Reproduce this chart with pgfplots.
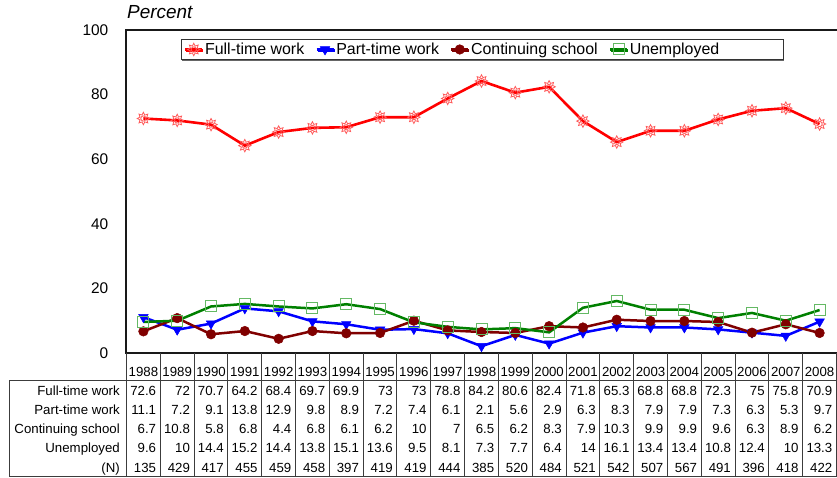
\documentclass[border=0pt]{standalone}
\usepackage{fontspec}
\setmainfont{Liberation Sans}
\usepackage{pgfplots}
\usepackage{pgfplotstable}
\pgfplotsset{compat=1.18}
\usetikzlibrary{plotmarks,calc,shadows}

\definecolor{ftred}{RGB}{255,0,0}
\definecolor{ftmark}{RGB}{255,90,90}
\definecolor{ptblue}{RGB}{0,0,255}
\definecolor{csred}{RGB}{128,0,0}
\definecolor{ungreen}{RGB}{0,128,0}
\definecolor{unmark}{RGB}{100,185,100}
\definecolor{tabline}{RGB}{60,60,60}

\newcommand\tabfont{\fontsize{13.3}{16}\selectfont}

% hollow "sun" marker: 8 spikes round a small circle
\pgfdeclareplotmark{sun}{%
  \pgfpathmoveto{\pgfpointpolar{90}{\pgfplotmarksize}}%
  \pgfpathlineto{\pgfpointpolar{112.5}{0.6\pgfplotmarksize}}%
  \pgfpathlineto{\pgfpointpolar{135}{\pgfplotmarksize}}%
  \pgfpathlineto{\pgfpointpolar{157.5}{0.6\pgfplotmarksize}}%
  \pgfpathlineto{\pgfpointpolar{180}{\pgfplotmarksize}}%
  \pgfpathlineto{\pgfpointpolar{202.5}{0.6\pgfplotmarksize}}%
  \pgfpathlineto{\pgfpointpolar{225}{\pgfplotmarksize}}%
  \pgfpathlineto{\pgfpointpolar{247.5}{0.6\pgfplotmarksize}}%
  \pgfpathlineto{\pgfpointpolar{270}{\pgfplotmarksize}}%
  \pgfpathlineto{\pgfpointpolar{292.5}{0.6\pgfplotmarksize}}%
  \pgfpathlineto{\pgfpointpolar{315}{\pgfplotmarksize}}%
  \pgfpathlineto{\pgfpointpolar{337.5}{0.6\pgfplotmarksize}}%
  \pgfpathlineto{\pgfpointpolar{0}{\pgfplotmarksize}}%
  \pgfpathlineto{\pgfpointpolar{22.5}{0.6\pgfplotmarksize}}%
  \pgfpathlineto{\pgfpointpolar{45}{\pgfplotmarksize}}%
  \pgfpathlineto{\pgfpointpolar{67.5}{0.6\pgfplotmarksize}}%
  \pgfpathclose
  \pgfpathcircle{\pgfpointorigin}{0.42\pgfplotmarksize}%
  \pgfusepathqstroke}

% share of graduates by status, per survey year
\pgfplotstableread{
year ft   pt   cs   un   n
1988 72.6 11.1 6.7  9.6  135
1989 72   7.2  10.8 10   429
1990 70.7 9.1  5.8  14.4 417
1991 64.2 13.8 6.8  15.2 455
1992 68.4 12.9 4.4  14.4 459
1993 69.7 9.8  6.8  13.8 458
1994 69.9 8.9  6.1  15.1 397
1995 73   7.2  6.2  13.6 419
1996 73   7.4  10   9.5  419
1997 78.8 6.1  7    8.1  444
1998 84.2 2.1  6.5  7.3  385
1999 80.6 5.6  6.2  7.7  520
2000 82.4 2.9  8.3  6.4  484
2001 71.8 6.3  7.9  14   521
2002 65.3 8.3  10.3 16.1 542
2003 68.8 7.9  9.9  13.4 507
2004 68.8 7.9  9.9  13.4 567
2005 72.3 7.3  9.6  10.8 491
2006 75   6.3  6.3  12.4 396
2007 75.8 5.3  8.9  10   418
2008 70.9 9.7  6.2  13.3 422
}\survey

\pgfplotsset{
  cellbase/.style = {draw=none, forget plot, point meta=explicit symbolic,
                     nodes near coords},
  cell/.style = {cellbase,
                 nodes near coords style={anchor=base east, xshift=12.9bp,
                                          inner sep=0, font=\tabfont}},
  yearcell/.style = {cellbase,
                 nodes near coords style={anchor=base, inner sep=0, font=\tabfont}},
}
\tikzset{rowlab/.style = {anchor=base east, inner sep=0, font=\tabfont}}

\begin{document}
\begin{tikzpicture}
\begin{axis}[
    x=33.8095bp, y=3.23bp,
    xmin=-0.5, xmax=20.5, ymin=0, ymax=100,
    clip=false,
    axis line style={draw=none},
    xtick=\empty,
    ytick={0,20,...,100},
    major tick length=0pt,
    /pgf/number format/assume math mode=true,
    yticklabel style={font=\fontsize{15.5}{18}\selectfont, inner sep=0pt, xshift=-18bp},
    legend columns=4,
    legend style={at={(rel axis cs:0.0761,0.9721)}, anchor=north west,
                  draw=black!80, line width=0.9bp,
                  drop shadow={shadow xshift=1.2bp, shadow yshift=-1.2bp, fill=black!60, opacity=1},
                  fill=white,
                  font=\fontsize{16}{19}\selectfont,
                  inner xsep=3bp, inner ysep=2bp,
                  nodes={inner xsep=1.5bp, inner ysep=1.5bp},
                  /tikz/every even column/.append style={column sep=9.5bp}},
  ]

  \addplot[color=ftred, line width=2.6bp, mark=sun, mark size=6.2bp,
           mark options={draw=ftmark, fill=none, line width=0.8bp}]
    table[x expr=\coordindex, y=ft]{\survey};
  \addlegendentry{Full-time work}

  \addplot[color=ptblue, line width=2.5bp, mark=triangle*, mark size=5.5bp,
           mark options={fill=ptblue, draw=ptblue, rotate=180, line width=0.5bp}]
    table[x expr=\coordindex, y=pt]{\survey};
  \addlegendentry{Part-time work}

  \addplot[color=csred, line width=2.5bp, mark=*, mark size=4.8bp,
           mark options={fill=csred, draw=csred, line width=0.5bp}]
    table[x expr=\coordindex, y=cs]{\survey};
  \addlegendentry{Continuing school}

  \addplot[color=ungreen, line width=2.5bp, mark=square, mark size=5.5bp,
           mark options={draw=unmark, fill=none, line width=1bp}]
    table[x expr=\coordindex, y=un]{\survey};
  \addlegendentry{Unemployed\hspace*{59.5bp}}

  % plot frame: left, top, bottom
  \draw[line width=2bp, black!90]
    (axis cs:20.5,100) -- (axis cs:-0.5,100) -- (axis cs:-0.5,0) -- (axis cs:20.5,0);

  % data table under the plot
  \pgfplotsinvokeforeach{-0.5,0.5,...,20.5}{
    \draw[tabline, line width=1bp] (axis cs:#1,0) -- (axis cs:#1,-38.24);
  }
  \draw[tabline, line width=1bp]
    (axis cs:20.5,-8.36) -- (axis cs:-3.975,-8.36) -- (axis cs:-3.975,-38.24) -- (axis cs:20.5,-38.24);

  \addplot[yearcell] table[x expr=\coordindex, y expr=-7.217, meta=year]{\survey};
  \addplot[cell] table[x expr=\coordindex, y expr=-13.096, meta=ft]{\survey};
  \addplot[cell] table[x expr=\coordindex, y expr=-19.04, meta=pt]{\survey};
  \addplot[cell] table[x expr=\coordindex, y expr=-24.98, meta=cs]{\survey};
  \addplot[cell] table[x expr=\coordindex, y expr=-30.93, meta=un]{\survey};
  \addplot[cell] table[x expr=\coordindex, y expr=-36.87, meta=n]{\survey};

  \node[rowlab] at (axis cs:-0.692,-13.096) {Full-time work};
  \node[rowlab] at (axis cs:-0.692,-19.04) {Part-time work};
  \node[rowlab] at (axis cs:-0.692,-24.98) {Continuing school};
  \node[rowlab] at (axis cs:-0.692,-30.93) {Unemployed};
  \node[rowlab] at (axis cs:-0.692,-36.87) {(N)};

  \node[anchor=base west, inner sep=0, font=\fontsize{19}{22}\selectfont\itshape]
    at ($(axis cs:-0.5,100)+(0.5bp,11bp)$) {Percent};

  \coordinate (o) at (axis cs:-0.5,0);
\end{axis}
\pgfresetboundingbox
\path[use as bounding box] ($(o)+(-126.5bp,-125bp)$) rectangle ($(o)+(710.5bp,353bp)$);
\end{tikzpicture}
\end{document}
